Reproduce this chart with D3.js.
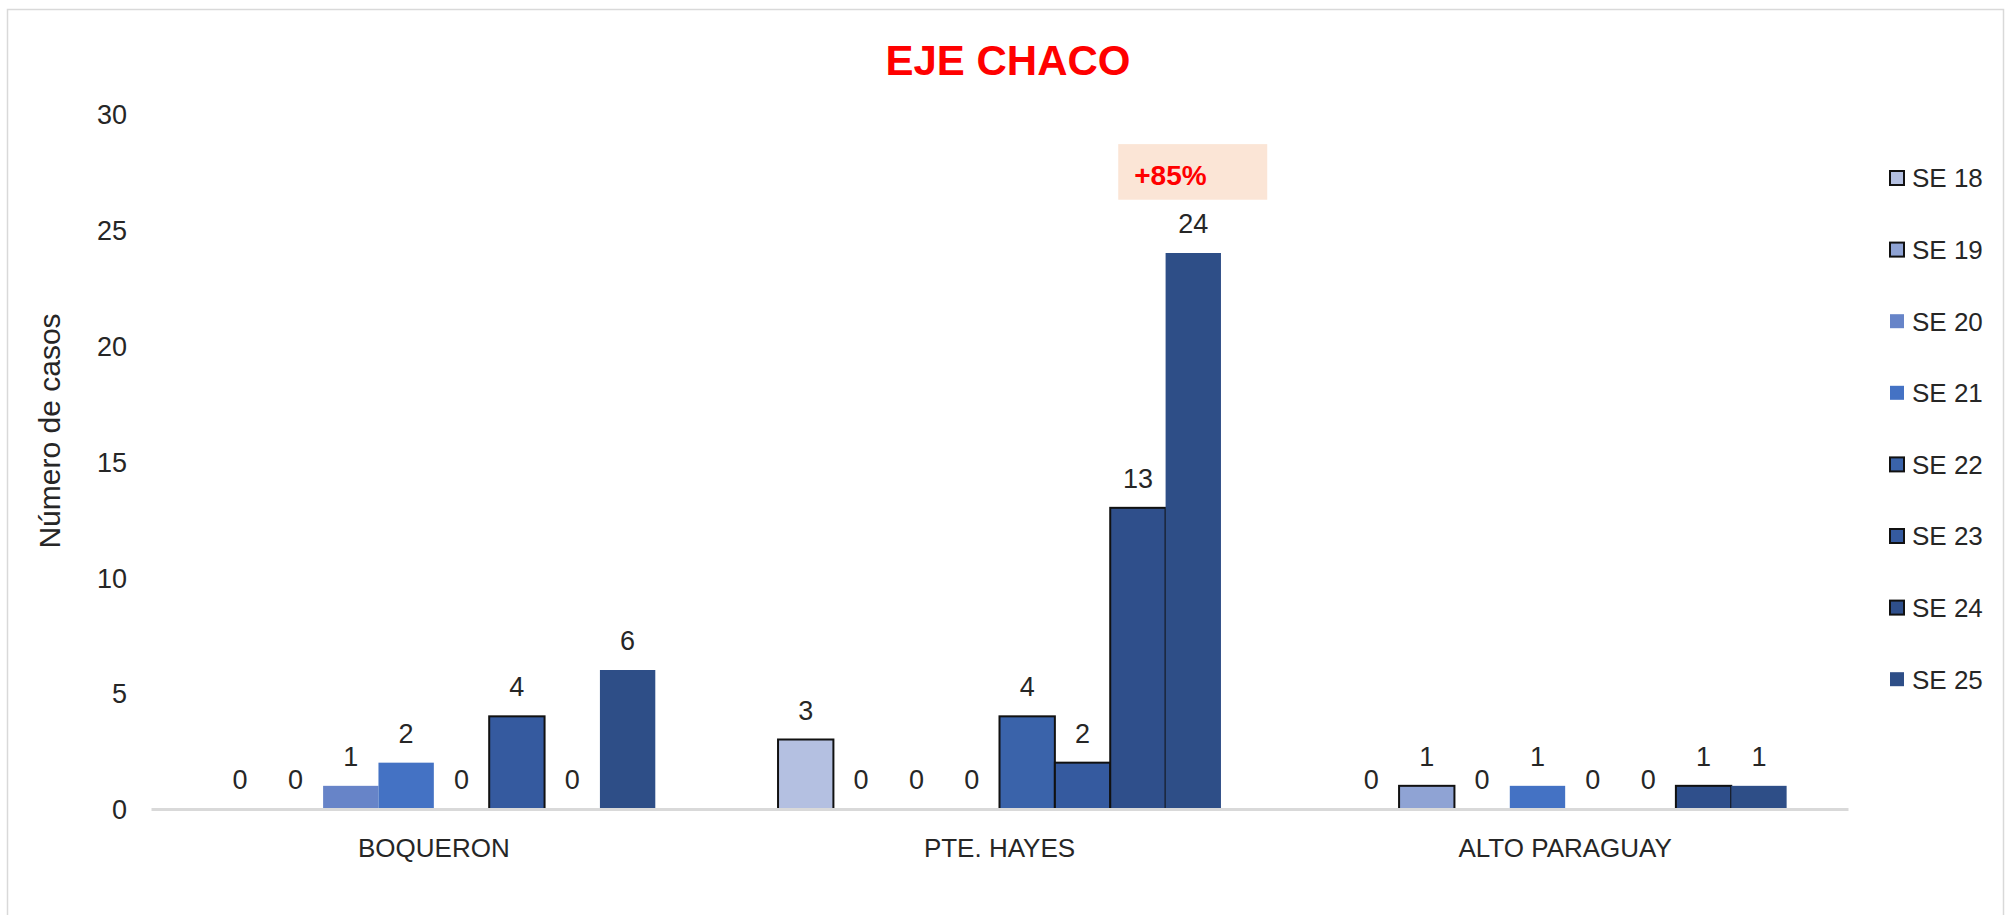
<!DOCTYPE html>
<html>
<head>
<meta charset="utf-8">
<script src="https://cdn.jsdelivr.net/npm/d3@7"></script>
<style>
  html, body { margin: 0; padding: 0; background: #fff; }
  svg { display: block; }
  text { font-family: "Liberation Sans", Arial, sans-serif; }
</style>
</head>
<body>
<svg id="chart" width="2010" height="915"></svg>
<script>
// ---- Data ----
const categories = ["BOQUERON", "PTE. HAYES", "ALTO PARAGUAY"];
const seriesNames = ["SE 18", "SE 19", "SE 20", "SE 21", "SE 22", "SE 23", "SE 24", "SE 25"];
const se18 = [0, 3, 0];
const se19 = [0, 0, 1];
const se20 = [1, 0, 0];
const se21 = [2, 0, 1];
const se22 = [0, 4, 0];
const se23 = [4, 2, 0];
const se24 = [0, 13, 1];
const se25 = [6, 24, 1];
const yTicks = [0, 5, 10, 15, 20, 25, 30];
const titleText = "EJE CHACO";
const yTitle = "Número de casos";
const annotationText = "+85%";

const seriesValues = [se18, se19, se20, se21, se22, se23, se24, se25];
const seriesColors = ["#B4C0E1", "#8FA3D4", "#6784C8", "#4472C4", "#3A63AA", "#355A9F", "#2F4F8B", "#2E4E87"];
const seriesOutlined = [true, true, false, false, true, true, true, false];

// ---- Layout ----
const svg = d3.select("#chart");
const plotLeft = 151, plotRight = 1848, plotTop = 114, plotBottom = 809;

// chart border
svg.append("rect")
  .attr("x", 7.5).attr("y", 9.5)
  .attr("width", 1996).attr("height", 930)
  .attr("fill", "#fff").attr("stroke", "#D9D9D9").attr("stroke-width", 1.5);

const x0 = d3.scaleBand().domain(categories).range([plotLeft, plotRight])
  .paddingInner(0.217).paddingOuter(0.1085);
const x1 = d3.scaleBand().domain(seriesNames).range([0, x0.bandwidth()]).padding(0);
const y = d3.scaleLinear().domain([0, 30]).range([plotBottom, plotTop]);

// title
svg.append("text")
  .attr("x", 1008).attr("y", 75)
  .attr("text-anchor", "middle")
  .attr("font-size", 42).attr("font-weight", "bold")
  .attr("fill", "#FF0000")
  .text(titleText);

// y axis (labels only)
const yAxis = d3.axisLeft(y).tickValues(yTicks).tickSize(0).tickPadding(0);
const gy = svg.append("g").attr("transform", `translate(${plotLeft - 24},0)`).call(yAxis);
gy.select(".domain").remove();
gy.selectAll("text")
  .attr("font-size", 27)
  .attr("fill", "#262626")
  .attr("dy", "0.36em")
  .style("font-family", "'Liberation Sans Narrow', 'Liberation Sans', Arial, sans-serif");

// y title
svg.append("text")
  .attr("transform", `translate(60, 431) rotate(-90)`)
  .attr("text-anchor", "middle")
  .attr("font-size", 30)
  .attr("fill", "#262626")
  .text(yTitle);

// bars
const groups = svg.append("g").selectAll("g")
  .data(categories)
  .join("g")
  .attr("transform", d => `translate(${x0(d)},0)`);

groups.each(function(cat, ci) {
  const g = d3.select(this);
  seriesNames.forEach((s, si) => {
    const v = seriesValues[si][ci];
    if (v > 0) {
      g.append("rect")
        .attr("x", x1(s))
        .attr("y", y(v))
        .attr("width", x1.bandwidth())
        .attr("height", y(0) - y(v))
        .attr("fill", seriesColors[si])
        .attr("stroke", seriesOutlined[si] ? "#111" : "none")
        .attr("stroke-width", 2);
    }
    g.append("text")
      .attr("x", x1(s) + x1.bandwidth() / 2)
      .attr("y", y(v) - 20)
      .attr("text-anchor", "middle")
      .attr("font-size", 27)
      .attr("fill", "#262626")
      .text(v);
  });
});

// x axis baseline
const xAxis = d3.axisBottom(x0).tickSize(0).tickPadding(30);
const gx = svg.append("g").attr("transform", `translate(0,${plotBottom})`).call(xAxis);
gx.select(".domain").attr("stroke", "#D9D9D9").attr("stroke-width", 3);
gx.selectAll("text")
  .attr("font-size", 26)
  .attr("fill", "#262626")
  .attr("dy", "0.71em")
  .style("font-family", "'Liberation Sans', Arial, sans-serif");

// annotation box
const annCat = "PTE. HAYES";
const annX = x0(annCat) + x1("SE 24") + 8;
const annW = 149;
svg.append("rect")
  .attr("x", annX).attr("y", y(28.7))
  .attr("width", annW).attr("height", y(26.3) - y(28.7))
  .attr("fill", "#FBE5D6");
svg.append("text")
  .attr("x", annX + 16).attr("y", y(28.7) + 41)
  .attr("font-size", 28).attr("font-weight", "bold")
  .attr("fill", "#FF0000")
  .text(annotationText);

// legend
const legend = svg.append("g").attr("transform", "translate(1890,178)");
seriesNames.forEach((s, i) => {
  const gy2 = i * 71.6;
  legend.append("rect")
    .attr("x", 0).attr("y", gy2 - 7)
    .attr("width", 14).attr("height", 14)
    .attr("fill", seriesColors[i])
    .attr("stroke", seriesOutlined[i] ? "#111" : "none")
    .attr("stroke-width", 2);
  legend.append("text")
    .attr("x", 22).attr("y", gy2)
    .attr("dy", "0.36em")
    .attr("font-size", 26)
    .attr("fill", "#262626")
    .text(s);
});
</script>
</body>
</html>
